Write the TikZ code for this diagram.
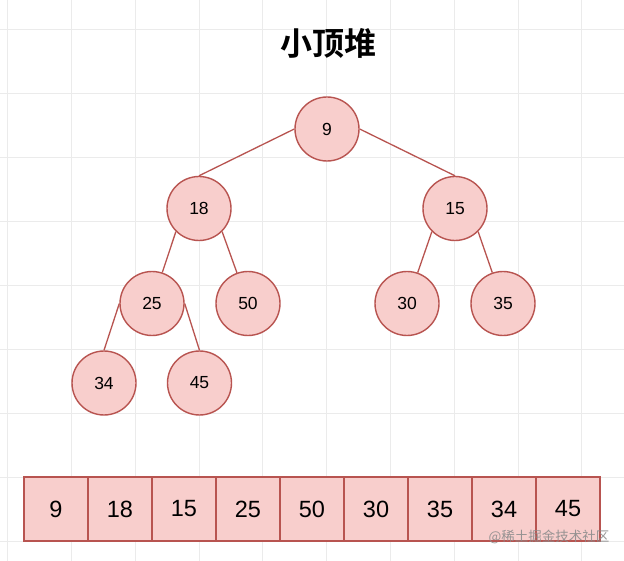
\documentclass[tikz,border=0pt]{standalone}
\usepackage{fontspec}
\setmainfont{Liberation Sans}
\newfontfamily\cjk{Noto Sans CJK SC}
\newfontfamily\cjkbold{Noto Sans CJK SC Bold}
\definecolor{nodefill}{HTML}{F8CECC}
\definecolor{nodedraw}{HTML}{B85450}
\definecolor{gridc}{HTML}{EBEBEB}
\definecolor{wmark}{HTML}{8C8C8C}
\tikzset{
  heapnode/.style={circle, draw=nodedraw, fill=nodefill, line width=1.4pt, minimum size=64pt, inner sep=0pt, font=\fontsize{17.5}{17.5}\selectfont},
  cell/.style={rectangle, draw=nodedraw, fill=nodefill, line width=1.4pt, minimum size=64pt, inner sep=0pt, font=\fontsize{23.5}{23.5}\selectfont},
  link/.style={draw=nodedraw, line width=1.3pt},
}
\begin{document}
\begin{tikzpicture}[x=1pt, y=-1pt]
\useasboundingbox (0,0) rectangle (624,561);
\fill[white] (0,0) rectangle (624,561);
% grid
\foreach \i in {0,...,9} {
  \draw[gridc, line width=0.8pt] (7.5+63.8*\i,0) -- (7.5+63.8*\i,561);
}
\foreach \j in {0,...,8} {
  \draw[gridc, line width=0.8pt] (0,29.3+64*\j) -- (624,29.3+64*\j);
}
% title
\node (title) at (328,43) {\cjkbold\fontsize{32}{32}\selectfont 小顶堆};
% tree nodes
\node[heapnode] (n9)  at (327,129)   {9};
\node[heapnode] (n18) at (199,208.5) {18};
\node[heapnode] (n15) at (455,208.5) {15};
\node[heapnode] (n25) at (152,303.5) {25};
\node[heapnode] (n50) at (248,303.5) {50};
\node[heapnode] (n30) at (407,303.5) {30};
\node[heapnode] (n35) at (503,303.5) {35};
\node[heapnode] (n34) at (104,383)   {34};
\node[heapnode] (n45) at (199.5,383) {45};
% edges
\draw[link] (n9.west) -- (n18.north);
\draw[link] (n9.east) -- (n15.north);
\draw[link] (n18.south west) -- (n25);
\draw[link] (n18.south east) -- (n50);
\draw[link] (n15.south west) -- (n30);
\draw[link] (n15.south east) -- (n35);
\draw[link] (n25.west) -- (n34.north);
\draw[link] (n25.east) -- (n45.north);
% array
\foreach \v [count=\k from 0] in {9,18,15,25,50,30,35,34,45} {
  \node[cell] (c\k) at (56+64*\k,509) {\v};
}
% watermark
\node[text=wmark, opacity=0.9, inner sep=0pt] (wm) at (549,537) {\cjk\fontsize{13.5}{13.5}\selectfont @稀土掘金技术社区};
\end{tikzpicture}
\end{document}
